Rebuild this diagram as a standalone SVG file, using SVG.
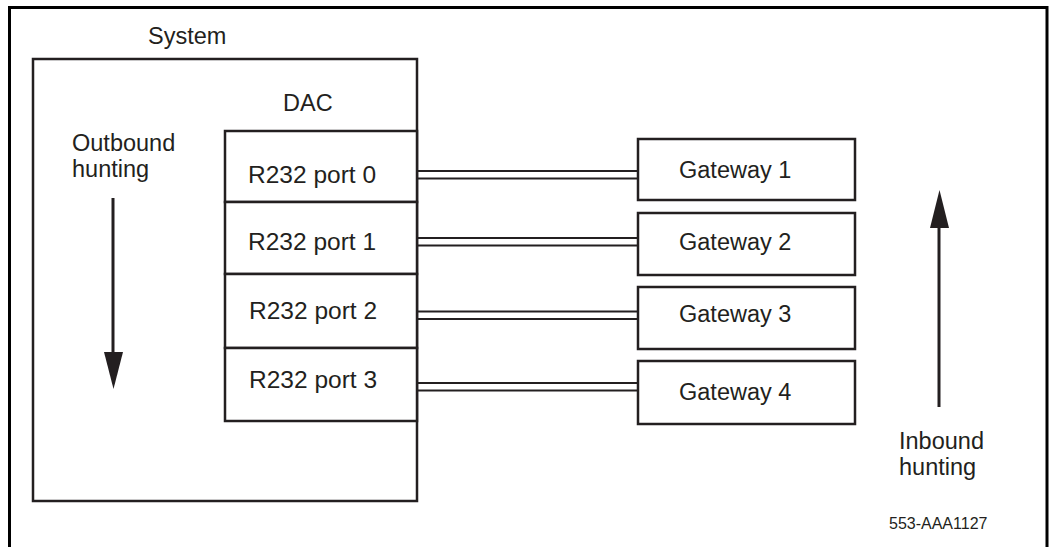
<svg xmlns="http://www.w3.org/2000/svg" width="1054" height="547" viewBox="0 0 1054 547">
<style>
.box{fill:#fff;stroke:#231f20;stroke-width:2.5}
.t{font-family:"Liberation Sans",Arial,sans-serif;font-size:23.5px;fill:#231f20}
.p{font-family:"Liberation Sans",Arial,sans-serif;font-size:24.5px;fill:#231f20}
.s{font-family:"Liberation Sans",Arial,sans-serif;font-size:16px;fill:#231f20}
.w{stroke:#231f20;stroke-width:2.2;fill:none}
.ar{stroke:#231f20;stroke-width:3;fill:none}
</style>
<rect width="1054" height="547" fill="#fff"/>
<path d="M9.5,547 V7.5 H1047 V547" fill="none" stroke="#000" stroke-width="3"/>
<g id="system">
<rect class="box" x="33" y="59" width="384" height="442"/>
<text class="t" x="148" y="44">System</text>
<text class="t" x="283" y="111">DAC</text>
</g>
<g id="outbound">
<text class="t" x="72" y="151">Outbound</text>
<text class="t" x="72" y="177">hunting</text>
<line class="ar" x1="113" y1="198" x2="113" y2="353"/>
<polygon points="104,352 123,352 113.5,389" fill="#231f20"/>
</g>
<g id="port0"><rect class="box" x="225" y="131" width="192" height="71"/><text class="p" x="248" y="183">R232 port 0</text></g>
<g id="port1"><rect class="box" x="225" y="202" width="192" height="72"/><text class="p" x="248" y="250">R232 port 1</text></g>
<g id="port2"><rect class="box" x="225" y="274" width="192" height="74"/><text class="p" x="249" y="319">R232 port 2</text></g>
<g id="port3"><rect class="box" x="225" y="348" width="192" height="73"/><text class="p" x="249" y="388">R232 port 3</text></g>
<g id="gw1"><rect class="box" x="638" y="139" width="217" height="61"/><text class="t" x="679" y="178">Gateway 1</text></g>
<g id="gw2"><rect class="box" x="638" y="213" width="217" height="62"/><text class="t" x="679" y="250">Gateway 2</text></g>
<g id="gw3"><rect class="box" x="638" y="287" width="217" height="62"/><text class="t" x="679" y="322">Gateway 3</text></g>
<g id="gw4"><rect class="box" x="638" y="361" width="217" height="63"/><text class="t" x="679" y="400">Gateway 4</text></g>
<g id="connectors">
<line class="w" x1="418" y1="171" x2="637" y2="171"/><line class="w" x1="418" y1="178.5" x2="637" y2="178.5"/>
<line class="w" x1="418" y1="238" x2="637" y2="238"/><line class="w" x1="418" y1="245.5" x2="637" y2="245.5"/>
<line class="w" x1="418" y1="311.5" x2="637" y2="311.5"/><line class="w" x1="418" y1="319" x2="637" y2="319"/>
<line class="w" x1="418" y1="383" x2="637" y2="383"/><line class="w" x1="418" y1="390.5" x2="637" y2="390.5"/>
</g>
<g id="inbound">
<line class="ar" x1="939" y1="226" x2="939" y2="407"/>
<polygon points="930,228 949,228 939.5,190" fill="#231f20"/>
<text class="t" x="899" y="449">Inbound</text>
<text class="t" x="899" y="475">hunting</text>
</g>
<text class="s" x="889" y="529">553-AAA1127</text>
</svg>
